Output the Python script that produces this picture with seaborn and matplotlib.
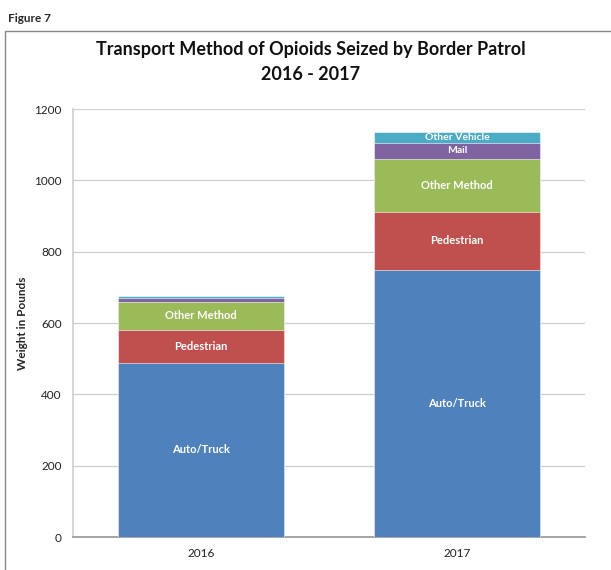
import numpy as np
import pandas as pd
import matplotlib.pyplot as plt
import seaborn as sns
from matplotlib.patches import Rectangle

# ── data ──
years = ["2016", "2017"]
methods = ["Auto/Truck", "Pedestrian", "Other Method", "Mail", "Other Vehicle"]
auto_truck = [488, 748]
pedestrian = [92, 164]
other_method = [80, 148]
mail = [11, 45]
other_vehicle = [6, 30]
# which segments carry a label in the picture
show_2016 = [True, True, True, False, False]
show_2017 = [True, True, True, True, True]

colors = ["#4F81BD", "#C0504D", "#9BBB59", "#8064A2", "#4BACC6"]

sns.set_theme(style="white")
plt.rcParams["font.family"] = ["Lato", "DejaVu Sans"]

values = np.array([auto_truck, pedestrian, other_method, mail, other_vehicle])
tops = values.cumsum(axis=0)

fig = plt.figure(figsize=(6.11, 5.70), dpi=100)
ax = fig.add_axes([73 / 611, 1 - 537 / 570, 512 / 611, 428 / 570])

# stacked bars: draw cumulative heights from the top layer down
for i in range(len(methods) - 1, -1, -1):
    df = pd.DataFrame({"year": years, "total": tops[i]})
    sns.barplot(data=df, x="year", y="total", color=colors[i], width=0.645,
                saturation=1, ax=ax, zorder=3, edgecolor="white", linewidth=0.4)

# segment labels
shows = [show_2016, show_2017]
for j in range(len(years)):
    for i in range(len(methods)):
        if shows[j][i]:
            mid = tops[i][j] - values[i][j] / 2
            fs = 7.5 if values[i][j] < 60 else 8
            ax.text(j, mid, methods[i], ha="center", va="center", color="white",
                    fontsize=fs, fontweight="bold", zorder=5)

ax.set_ylim(0, 1200)
ax.set_xlim(-0.5, 1.5)
ax.set_yticks(range(0, 1201, 200))
ax.yaxis.grid(True, color="#d0d0d0", linewidth=0.9)
ax.set_axisbelow(True)
for s in ["top", "right"]:
    ax.spines[s].set_visible(False)
ax.spines["left"].set_color("#d0d0d0")
ax.spines["bottom"].set_color("#9a9a9a")
ax.tick_params(axis="both", length=0, labelsize=8.5, colors="#222222", pad=8)
ax.set_xlabel("")
ax.set_ylabel("Weight in Pounds", fontsize=8.5, fontweight="bold")
ax.yaxis.set_label_coords(-0.088, 0.5)

fig.text(311 / 611, 1 - 50 / 570, "Transport Method of Opioids Seized by Border Patrol",
         ha="center", va="center", fontsize=13, fontweight="bold", color="#111111")
fig.text(311 / 611, 1 - 74 / 570, "2016 - 2017", ha="center", va="center",
         fontsize=13, fontweight="bold", color="#111111")
fig.text(8 / 611, 1 - 18 / 570, "Figure 7", ha="left", va="center",
         fontsize=8.5, fontweight="bold")

# outer frame around the chart
fig.patches.append(Rectangle((5 / 611, -0.05), 1.0, 1 - 31 / 570 + 0.05,
                             transform=fig.transFigure, fill=False,
                             edgecolor="#888888", linewidth=1))

fig.savefig("out.png", dpi=100)
